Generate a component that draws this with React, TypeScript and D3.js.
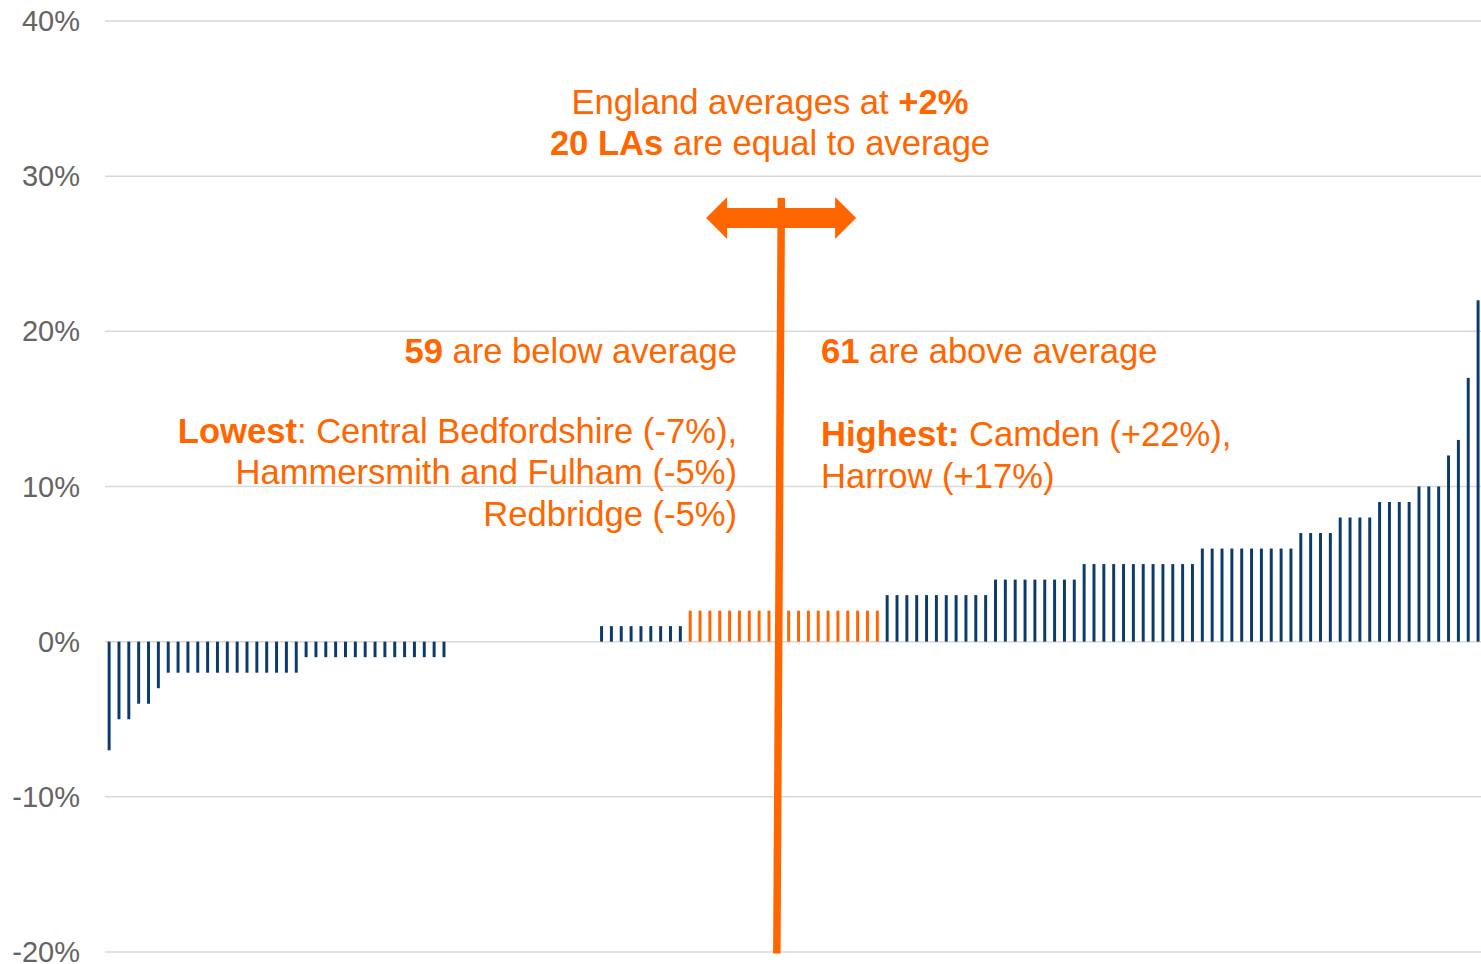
import React from "react";
import * as d3 from "d3";

const W = 1481;
const H = 964;

// Percentage change per local authority, sorted ascending (140 LAs)
const changePct: number[] = [
  -7, -5, -5, -4, -4, -3,
  -2, -2, -2, -2, -2, -2, -2, -2, -2, -2, -2, -2, -2, -2,
  -1, -1, -1, -1, -1, -1, -1, -1, -1, -1, -1, -1, -1, -1, -1,
  0, 0, 0, 0, 0, 0, 0, 0, 0, 0, 0, 0, 0, 0, 0,
  1, 1, 1, 1, 1, 1, 1, 1, 1,
  2, 2, 2, 2, 2, 2, 2, 2, 2, 2, 2, 2, 2, 2, 2, 2, 2, 2, 2, 2,
  3, 3, 3, 3, 3, 3, 3, 3, 3, 3, 3,
  4, 4, 4, 4, 4, 4, 4, 4, 4,
  5, 5, 5, 5, 5, 5, 5, 5, 5, 5, 5, 5,
  6, 6, 6, 6, 6, 6, 6, 6, 6, 6,
  7, 7, 7, 7,
  8, 8, 8, 8,
  9, 9, 9, 9,
  10, 10, 10,
  12, 13, 17, 22,
];

const englandAverage = 2;
const yTicks: number[] = [-20, -10, 0, 10, 20, 30, 40];

type Seg = { t: string; b: boolean };

const headerLines: Seg[][] = [
  [{ t: "England averages at ", b: false }, { t: "+2%", b: true }],
  [{ t: "20 LAs", b: true }, { t: " are equal to average", b: false }],
];

const belowLines: Seg[][] = [
  [{ t: "59", b: true }, { t: " are below average", b: false }],
  [{ t: "Lowest", b: true }, { t: ": Central Bedfordshire (-7%),", b: false }],
  [{ t: "Hammersmith and Fulham (-5%)", b: false }],
  [{ t: "Redbridge (-5%)", b: false }],
];

const aboveLines: Seg[][] = [
  [{ t: "61", b: true }, { t: " are above average", b: false }],
  [{ t: "Highest:", b: true }, { t: " Camden (+22%),", b: false }],
  [{ t: "Harrow (+17%)", b: false }],
];

const ORANGE = "#FF6600";
const NAVY = "#0B3A6C";
const GRID = "#D9D9D9";
const TICK = "#646464";
const FONT = "'Liberation Sans', Arial, sans-serif";

const plotLeft = 104.2;
const plotRight = 1483;

function Lines({ lines, x, ys, anchor, size }: { lines: Seg[][]; x: number; ys: number[]; anchor: string; size: number }) {
  return (
    <g fontFamily={FONT} fontSize={size} fill={ORANGE} textAnchor={anchor} style={{ whiteSpace: "pre" }}>
      {lines.map((segs, i) => (
        <text key={i} x={x} y={ys[i]}>
          {segs.map((s, j) => (
            <tspan key={j} fontWeight={s.b ? "bold" : "normal"}>{s.t}</tspan>
          ))}
        </text>
      ))}
    </g>
  );
}

export default function App() {
  const idx = changePct.map((_, i) => i);
  const x = d3
    .scaleBand<number>()
    .domain(idx)
    .range([plotLeft, plotRight])
    .paddingInner(0.7)
    .paddingOuter(0.35);
  const y = d3.scaleLinear().domain([-20, 40]).range([952, 21]);

  // Average marker sits on the middle bar of the "equal to average" group
  const firstAvg = changePct.indexOf(englandAverage);
  const lastAvg = changePct.lastIndexOf(englandAverage);
  const midAvg = Math.floor((firstAvg + lastAvg) / 2);
  const cx = (x(midAvg) as number) + x.bandwidth() / 2;
  const lineTop = y(28.6);
  const lineBottom = y(-20.1);
  const arrowY = y(27.3);
  const arrowCx = cx + 2.3;
  const half = 75;
  const headLen = 21;
  const headHalf = 21;
  const shaftHalf = 10;
  const arrowPts = [
    [arrowCx - half, arrowY],
    [arrowCx - half + headLen, arrowY - headHalf],
    [arrowCx - half + headLen, arrowY - shaftHalf],
    [arrowCx + half - headLen, arrowY - shaftHalf],
    [arrowCx + half - headLen, arrowY - headHalf],
    [arrowCx + half, arrowY],
    [arrowCx + half - headLen, arrowY + headHalf],
    [arrowCx + half - headLen, arrowY + shaftHalf],
    [arrowCx - half + headLen, arrowY + shaftHalf],
    [arrowCx - half + headLen, arrowY + headHalf],
  ]
    .map((p) => p.join(","))
    .join(" ");

  return (
    <div style={{ position: "absolute", left: 0, top: 0 }}>
      <svg width={W} height={H} viewBox={`0 0 ${W} ${H}`} style={{ display: "block", background: "#fff" }}>
        {/* gridlines and tick labels */}
        {yTicks.map((t) => (
          <g key={t}>
            <line x1={105} x2={W} y1={y(t)} y2={y(t)} stroke={GRID} strokeWidth={1.5} />
            <text
              x={80}
              y={y(t)}
              textAnchor="end"
              dominantBaseline="central"
              fontFamily={FONT}
              fontSize={29}
              fill={TICK}
            >
              {`${t}%`}
            </text>
          </g>
        ))}

        {/* bars */}
        {changePct.map((v, i) => (
          <rect
            key={i}
            x={x(i)}
            width={x.bandwidth()}
            y={Math.min(y(v), y(0))}
            height={Math.abs(y(v) - y(0))}
            fill={v === englandAverage ? ORANGE : NAVY}
          />
        ))}

        {/* average marker */}
        <line x1={cx + 2.5} y1={lineTop} x2={cx - 2} y2={lineBottom} stroke={ORANGE} strokeWidth={7.5} />
        <polygon points={arrowPts} fill={ORANGE} />

        {/* annotations */}
        <Lines lines={headerLines} x={770} ys={[114, 155]} anchor="middle" size={34.6} />
        <Lines lines={belowLines} x={737} ys={[363, 443, 484, 526]} anchor="end" size={34.6} />
        <Lines lines={aboveLines} x={821} ys={[363, 446, 488]} anchor="start" size={34.6} />
      </svg>
    </div>
  );
}
